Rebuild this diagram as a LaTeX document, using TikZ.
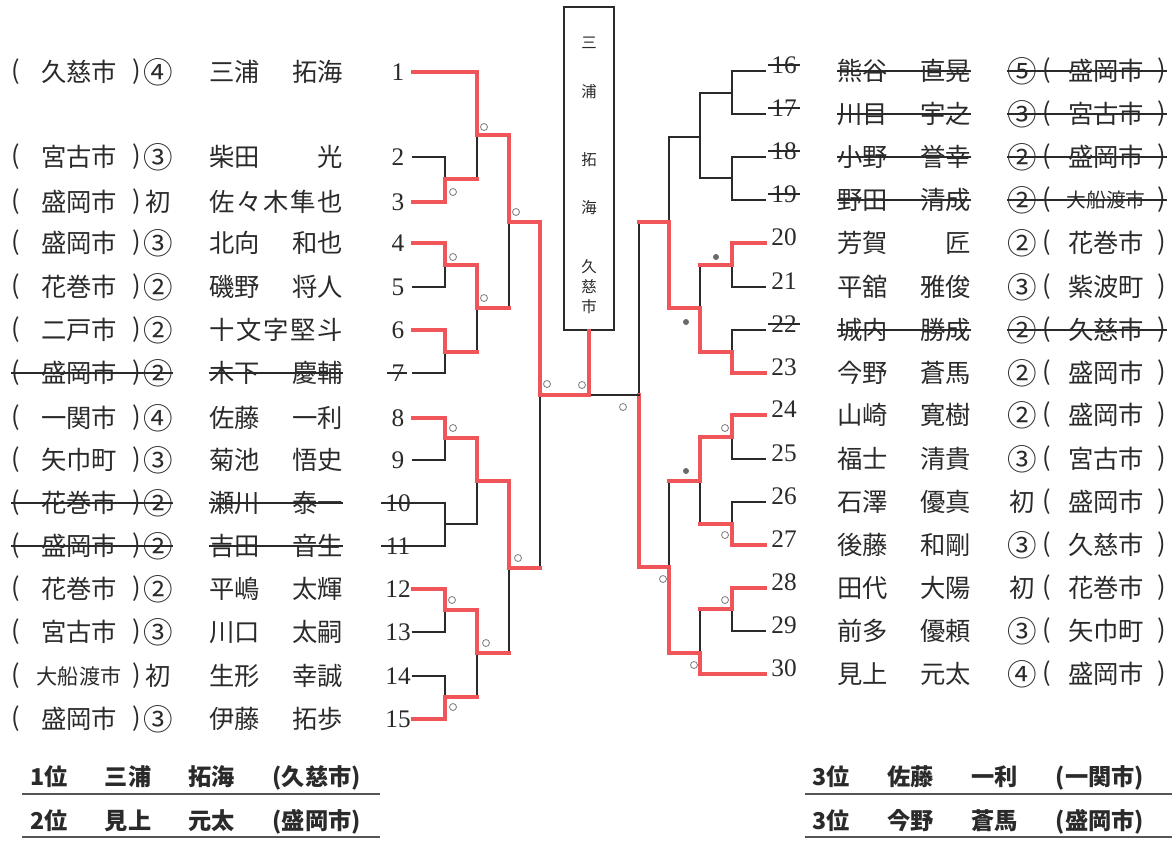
\documentclass[tikz,border=0pt]{standalone}
\usepackage{fontspec}
\newfontfamily\jp{Noto Sans CJK JP}
\newfontfamily\num{Liberation Serif}
\definecolor{ink}{HTML}{2A2A2A}
\definecolor{winred}{HTML}{F0555A}
\begin{document}
\begin{tikzpicture}[x=0.025cm,y=-0.025cm,
  lose/.style={draw=ink,line width=1.5pt,line cap=rect},
  win/.style={draw=winred,line width=2.4pt,line cap=rect},
  txt/.style={font=\jp\fontsize{18}{18}\selectfont,text=ink,inner sep=0pt},
  marktxt/.style={font=\jp\fontsize{21}{21}\selectfont,text=ink,inner sep=0pt},
  numtxt/.style={font=\num\fontsize{18}{18}\selectfont,text=ink,inner sep=0pt},
  boxtxt/.style={font=\jp\fontsize{11}{11}\selectfont,text=ink,inner sep=0pt},
  strike/.style={draw=ink,line width=1.2pt},
  score/.style={draw=gray,line width=0.6pt},
  result/.style={font=\jp\bfseries\fontsize{16.5}{17}\selectfont,text=ink,inner sep=0pt,anchor=west},
  underline/.style={draw=ink!80,line width=1.8pt}]
  \useasboundingbox (0,0) rectangle (1176,843);

  % Left entries
  \foreach \n/\y/\city/\mark/\name in {
    1/72/久慈市/④/三浦\hfill 拓海, 2/157/宮古市/③/柴田\hfill 光,
    3/202/盛岡市/{\jp\fontsize{18}{18}\selectfont 初}/佐\hfill 々\hfill 木\hfill 隼\hfill 也, 4/243/盛岡市/③/北向\hfill 和也,
    5/287/花巻市/②/磯野\hfill 将人, 6/330/二戸市/②/十\hfill 文\hfill 字\hfill 堅\hfill 斗,
    7/373/盛岡市/②/木下\hfill 慶輔, 8/418/一関市/④/佐藤\hfill 一利,
    9/460/矢巾町/③/菊池\hfill 悟史, 10/503/花巻市/②/瀬川\hfill 泰一,
    11/546/盛岡市/②/吉田\hfill 音生, 12/589/花巻市/②/平嶋\hfill 太輝,
    13/632/宮古市/③/川口\hfill 太嗣, 14/676/{\fontsize{15}{15}\selectfont 大船渡市}/{\jp\fontsize{18}{18}\selectfont 初}/生形\hfill 幸誠,
    15/719/盛岡市/③/伊藤\hfill 拓歩} {
    \node[txt] (lo\n) at (16,\y) {(};
    \node[txt] (lc\n) at (79,\y) {\city};
    \node[txt] (lp\n) at (137,\y) {)};
    \node[marktxt] (lm\n) at (158,\y) {\mark};
    \node[txt,anchor=west] (ln\n) at (209,\y) {\makebox[95pt][s]{\name}};
    \node[numtxt] (l\n) at (398,\y) {\n};
    \coordinate (s\n) at (413,\y);
  }

  % Right entries
  \foreach \n/\y/\name/\mark/\city in {
    16/71/熊谷\hfill 直晃/⑤/盛岡市, 17/114/川目\hfill 宇之/③/宮古市,
    18/157/小野\hfill 誉幸/②/盛岡市, 19/200/野田\hfill 清成/②/{\fontsize{14}{14}\selectfont 大船渡市},
    20/243/芳賀\hfill 匠/②/花巻市, 21/287/平舘\hfill 雅俊/③/紫波町,
    22/330/城内\hfill 勝成/②/久慈市, 23/373/今野\hfill 蒼馬/②/盛岡市,
    24/415/山崎\hfill 寛樹/②/盛岡市, 25/459/福士\hfill 清貴/③/宮古市,
    26/502/石澤\hfill 優真/{\jp\fontsize{18}{18}\selectfont 初}/盛岡市, 27/545/後藤\hfill 和剛/③/久慈市,
    28/588/田代\hfill 大陽/{\jp\fontsize{18}{18}\selectfont 初}/花巻市, 29/631/前多\hfill 優頼/③/矢巾町,
    30/674/見上\hfill 元太/④/盛岡市} {
    \node[numtxt] (r\n) at (784,\y-6) {\n};
    \node[txt,anchor=west] (rn\n) at (837,\y) {\makebox[95pt][s]{\name}};
    \node[marktxt] (rm\n) at (1022,\y) {\mark};
    \node[txt] (ro\n) at (1047,\y) {(};
    \node[txt] (rc\n) at (1106,\y) {\city};
    \node[txt] (rp\n) at (1162,\y) {)};
    \coordinate (s\n) at (765,\y);
  }

  % Struck out entries
  \foreach \n in {7,10,11} {
    \draw[strike] (lo\n.west |- lc\n.center) -- (lm\n.east |- lc\n.center);
    \draw[strike] (ln\n.west) -- (ln\n.east);
    \draw[strike] ([xshift=-3pt]l\n.west) -- ([xshift=2pt]l\n.east);
  }
  \foreach \n in {16,17,18,19,22} {
    \draw[strike] ([xshift=-2pt]r\n.west) -- ([xshift=2pt]r\n.east);
    \draw[strike] (rn\n.west) -- (rn\n.east);
    \draw[strike] (rm\n.west |- rc\n.center) -- (rp\n.east |- rc\n.center);
  }

  % Match points
  \foreach \m/\x/\y in {a23/445/179, a45/445/265, a67/445/352, a89/445/438,
      a1011/445/524, a1213/445/610, a1415/445/697,
      b1/477/135, b2/477/308, b3/477/481, b4/477/653,
      c1/509/222, c2/509/568, d/540/395, fin/589/395,
      e1617/732/93, e1819/732/178, e2021/732/265, e2223/732/352,
      e2425/732/437, e2627/732/524, e2829/732/609,
      f1/700/137, f2/700/308, f3/700/481, f4/700/653,
      g1/669/222, g2/669/567, h/639/395}
    \coordinate (\m) at (\x,\y);

  % Bracket: child/parent/out-line/in-line
  \def\edges{
      s2/a23/lose/lose, s5/a45/lose/lose, s7/a67/lose/lose, s9/a89/lose/lose,
      s10/a1011/lose/lose, s11/a1011/lose/lose, a1011/b3/lose/lose,
      s13/a1213/lose/lose, s14/a1415/lose/lose,
      s16/e1617/lose/lose, s17/e1617/lose/lose, s18/e1819/lose/lose, s19/e1819/lose/lose,
      e1617/f1/lose/lose, e1819/f1/lose/lose, f1/g1/lose/lose,
      s21/e2021/lose/lose, s22/e2223/lose/lose, s25/e2425/lose/lose,
      s26/e2627/lose/lose, s29/e2829/lose/lose,
      a23/b1/win/lose, a67/b2/win/lose, b2/c1/win/lose, a1415/b4/win/lose,
      b4/c2/win/lose, c2/d/win/lose, e2021/f2/win/lose, e2627/f3/win/lose,
      e2829/f4/win/lose, f3/g2/win/lose, g1/h/win/lose,
      s1/b1/win/win, s3/a23/win/win, s4/a45/win/win, s6/a67/win/win,
      a45/b2/win/win, b1/c1/win/win, s8/a89/win/win, a89/b3/win/win,
      s12/a1213/win/win, s15/a1415/win/win, a1213/b4/win/win, b3/c2/win/win,
      c1/d/win/win, s20/e2021/win/win, s23/e2223/win/win, e2223/f2/win/win,
      f2/g1/win/win, s24/e2425/win/win, s27/e2627/win/win, e2425/f3/win/win,
      s28/e2829/win/win, s30/f4/win/win, f4/g2/win/win, g2/h/win/win}
  \foreach \c/\p/\h/\v in \edges
    \draw[\v] (\c -| \p) -- (\p);
  \foreach \c/\p/\h/\v in \edges
    \draw[\h] (\c) -- (\c -| \p);

  % Champion
  \node[draw=ink,line width=1.2pt,minimum width=1.25cm,minimum height=8.075cm,inner sep=0pt] (champ) at (589,168.5) {};
  \foreach \ch/\y [count=\i] in {三/43,浦/92,拓/160,海/208,久/267,慈/287,市/307}
    \node[boxtxt] (v\i) at (589,\y) {\ch};
  \draw[lose] (h) -- (fin);
  \draw[win] (d) -- (fin) -- (champ.south);

  % Score marks
  \foreach \x/\y in {484/127, 453/192, 516/212, 453/257, 484/298, 547/384, 582/385,
      453/428, 518/558, 452/600, 486/643, 453/707,
      623/407, 725/428, 725/535, 663/579, 725/600, 694/665}
    \draw[score] (\x,\y) circle (3.5);
  \foreach \x/\y in {716/257, 686/322, 686/471}
    \fill[ink!70] (\x,\y) circle (3);

  % Results
  \node[result] (first) at (30,778) {\makebox[235pt][s]{1位\hfill 三浦\hfill 拓海\hfill (久慈市)}};
  \node[result] (second) at (30,822) {\makebox[235pt][s]{2位\hfill 見上\hfill 元太\hfill (盛岡市)}};
  \node[result] (thirda) at (812,778) {\makebox[236pt][s]{3位\hfill 佐藤\hfill 一利\hfill (一関市)}};
  \node[result] (thirdb) at (812,822) {\makebox[236pt][s]{3位\hfill 今野\hfill 蒼馬\hfill (盛岡市)}};
  \draw[underline] (22,794) -- (380,794);
  \draw[underline] (22,837) -- (380,837);
  \draw[underline] (805,794) -- (1172,794);
  \draw[underline] (805,837) -- (1172,837);
\end{tikzpicture}
\end{document}
